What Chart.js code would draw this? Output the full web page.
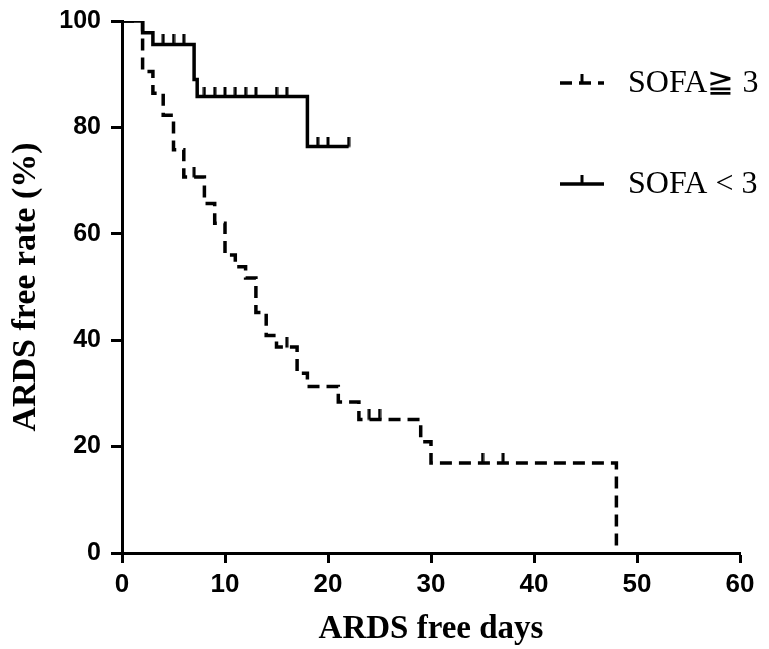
<!DOCTYPE html>
<html>
<head>
<meta charset="utf-8">
<script src="https://cdn.jsdelivr.net/npm/chart.js@4.4.1/dist/chart.umd.min.js"></script>
<style>
    html, body { margin: 0; padding: 0; background: #fff; }
</style>
</head>
<body>
<canvas id="km-chart" width="769" height="649"></canvas>
<script>
// SOFA >= 3 (dashed)
const highDays = [0, 2, 3, 4, 5, 6, 8, 9, 10, 11, 12, 13, 14, 15, 17, 18, 21, 23, 29, 30, 48];
const highRate = [100, 90.5, 86.4, 82.3, 75.8, 70.7, 65.7, 62.0, 56.0, 53.8, 51.7, 45.2, 40.9, 38.7, 33.8, 31.3, 28.4, 25.1, 20.9, 16.9, 0];
const highCensorDays = [7, 16, 24, 25, 35, 37];

// SOFA < 3 (solid)
const lowDays = [0, 2, 3, 7, 7.3, 18, 22];
const lowRate = [100, 97.8, 95.6, 89.0, 85.8, 76.4, 76.4];
const lowCensorDays = [1, 4, 5, 6, 8, 9, 10, 11, 12, 13, 15, 16, 19, 20, 22];

const seriesLabels = ["SOFA≧ 3", "SOFA < 3"];
const xTicks = [0, 10, 20, 30, 40, 50, 60];
const yTicks = [0, 20, 40, 60, 80, 100];

function toPoints(days, rates) {
    return days.map((d, i) => ({ x: d, y: rates[i] }));
}

// censored marks sit on the curve at that day
function censorPoints(censorDays, days, rates) {
    return censorDays.map((c) => {
        let v = rates[0];
        for (let i = 0; i < days.length; i++) {
            if (days[i] <= c) v = rates[i];
        }
        return { x: c, y: v };
    });
}

// small upward tick used as point style
const tickMark = document.createElement("canvas");
tickMark.width = 4;
tickMark.height = 20;
const tctx = tickMark.getContext("2d");
tctx.fillStyle = "#000";
tctx.fillRect(0.5, 0, 3, 10.5);

const legendPlugin = {
    id: "kmLegend",
    afterDraw(chart) {
        const ctx = chart.ctx;
        ctx.save();
        ctx.strokeStyle = "#000";
        ctx.fillStyle = "#000";
        ctx.lineWidth = 3.5;
        const rows = [
            { y: 83, dash: [12, 7] },
            { y: 184, dash: [] },
        ];
        rows.forEach((r, i) => {
            ctx.setLineDash(r.dash);
            ctx.beginPath();
            ctx.moveTo(560, r.y);
            ctx.lineTo(604, r.y);
            ctx.stroke();
            ctx.setLineDash([]);
            ctx.fillRect(580.5, r.y - 9, 3, 9);
            ctx.font = "32px 'Liberation Serif', 'Times New Roman', serif";
            ctx.textBaseline = "middle";
            ctx.textAlign = "left";
            ctx.fillText(seriesLabels[i], 628, r.y + 1);
        });
        ctx.restore();
    },
};

const config = {
    type: "line",
    data: {
        datasets: [
            {
                label: seriesLabels[0],
                data: toPoints(highDays, highRate),
                borderColor: "#000",
                borderWidth: 3.5,
                borderDash: [12, 7],
                stepped: true,
                pointRadius: 0,
                fill: false,
            },
            {
                label: seriesLabels[1],
                data: toPoints(lowDays, lowRate),
                borderColor: "#000",
                borderWidth: 3.5,
                stepped: true,
                pointRadius: 0,
                fill: false,
            },
            {
                label: "censor-high",
                data: censorPoints(highCensorDays, highDays, highRate),
                showLine: false,
                pointStyle: tickMark,
                pointRadius: 5,
            },
            {
                label: "censor-low",
                data: censorPoints(lowCensorDays, lowDays, lowRate),
                showLine: false,
                pointStyle: tickMark,
                pointRadius: 5,
            },
        ],
    },
    options: {
        responsive: false,
        animation: false,
        devicePixelRatio: 1,
        layout: {
            padding: { left: 0, right: 29, top: 21, bottom: 0 },
        },
        scales: {
            x: {
                type: "linear",
                min: 0,
                max: 60,
                afterBuildTicks: (scale) => {
                    scale.ticks = xTicks.map((v) => ({ value: v }));
                },
                afterFit: (scale) => {
                    scale.height = 96;
                },
                ticks: {
                    color: "#000",
                    padding: 6,
                    font: { family: "'Liberation Sans', Arial", size: 26, weight: "bold" },
                },
                grid: {
                    display: true,
                    drawOnChartArea: false,
                    drawTicks: true,
                    tickLength: 10,
                    tickWidth: 3,
                    tickColor: "#000",
                },
                border: { display: true, color: "#000", width: 3 },
                title: {
                    display: true,
                    text: "ARDS free days",
                    color: "#000",
                    padding: { top: 0, bottom: 0 },
                    font: { family: "'Liberation Serif', 'Times New Roman', serif", size: 33, weight: "bold" },
                },
            },
            y: {
                type: "linear",
                min: 0,
                max: 100,
                afterBuildTicks: (scale) => {
                    scale.ticks = yTicks.map((v) => ({ value: v }));
                },
                afterFit: (scale) => {
                    scale.width = 122;
                },
                ticks: {
                    color: "#000",
                    padding: 10,
                    font: { family: "'Liberation Sans', Arial", size: 25, weight: "bold", lineHeight: 0.8 },
                },
                grid: {
                    display: true,
                    drawOnChartArea: false,
                    drawTicks: true,
                    tickLength: 11,
                    tickWidth: 3,
                    tickColor: "#000",
                },
                border: { display: true, color: "#000", width: 3 },
                title: {
                    display: true,
                    text: "ARDS free rate (%)",
                    color: "#000",
                    padding: { top: 6, bottom: 0 },
                    font: { family: "'Liberation Serif', 'Times New Roman', serif", size: 34, weight: "bold" },
                },
            },
        },
        plugins: {
            legend: { display: false },
            tooltip: { enabled: false },
        },
    },
    plugins: [legendPlugin],
};

window.addEventListener("DOMContentLoaded", () => {
    new Chart(document.getElementById("km-chart"), config);
});
</script>
</body>
</html>
